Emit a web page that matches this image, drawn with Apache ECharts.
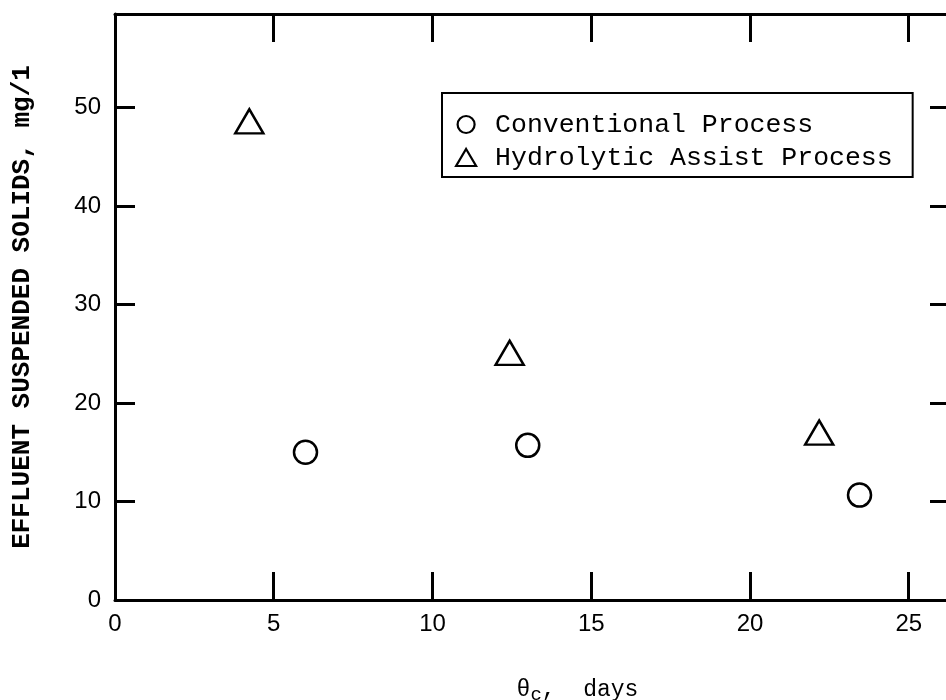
<!DOCTYPE html>
<html><head><meta charset="utf-8">
<script src="https://cdn.jsdelivr.net/npm/echarts@6/dist/echarts.min.js"></script>
<style>html,body{margin:0;padding:0;overflow:hidden;background:#fff}#c{width:952px;height:700px}</style>
</head><body><div id="c"></div>
<script>
const seriesNames = ['Conventional Process', 'Hydrolytic Assist Process'];
const conventionalX = [6.0, 13.0, 23.45];
const conventionalY = [15.0, 15.7, 10.65];
const hydrolyticX = [4.23, 12.43, 22.18];
const hydrolyticY = [48.6, 25.1, 17.0];
const xTicks = [0, 5, 10, 15, 20, 25];
const yTicks = [0, 10, 20, 30, 40, 50];
const xTitle = 'θ{s|c},  days';
const yTitle = 'EFFLUENT SUSPENDED SOLIDS, mg/1';

const zip = (xs, ys) => xs.map((x, i) => [x, ys[i]]);
const lineStyle = { color: '#000', width: 3 };
const axisLine = { show: true, onZero: false, lineStyle };
const labelFont = { color: '#000', fontFamily: 'Liberation Sans', fontSize: 24 };
const tickFormatter = (list) => (v) => (list.indexOf(Math.round(v * 1000) / 1000) >= 0 ? String(v) : '');

const chart = echarts.init(document.getElementById('c'), null, { renderer: 'canvas' });
chart.setOption({
  backgroundColor: '#fff',
  animation: false,
  grid: { left: 115, top: 14, right: 2, bottom: 100, containLabel: false, outerBoundsMode: 'none' },
  legend: {
    orient: 'vertical', left: 442, top: 93,
    padding: [18, 20, 6, 13],
    borderColor: '#000', borderWidth: 2,
    itemWidth: 20, itemHeight: 17, itemGap: 6,
    textStyle: { color: '#000', fontFamily: 'Liberation Mono', fontSize: 26.5, padding: [0, 0, 0, 14] },
    data: [
      { name: seriesNames[0], icon: 'circle', itemStyle: { color: '#fff', borderColor: '#000', borderWidth: 2.2 } },
      { name: seriesNames[1], icon: 'triangle', itemStyle: { color: '#fff', borderColor: '#000', borderWidth: 2.2 } }
    ]
  },
  xAxis: [
    {
      type: 'value', position: 'bottom', min: 0, max: 26.3, interval: 5,
      axisLine,
      axisTick: { show: true, inside: true, length: 28, lineStyle },
      axisLabel: { ...labelFont, margin: 12, showMaxLabel: false, formatter: tickFormatter(xTicks) },
      splitLine: { show: false },
      name: xTitle, nameLocation: 'middle', nameGap: 75,
      nameTextStyle: { color: '#000', fontFamily: 'Liberation Mono', fontSize: 23, padding: [0, 0, 0, 90],
        rich: { s: { fontFamily: 'Liberation Mono', fontSize: 19, padding: [10, 0, 0, 0] } } }
    },
    {
      type: 'value', position: 'top', min: 0, max: 26.3, interval: 5,
      axisLine,
      axisTick: { show: true, inside: true, length: 28, lineStyle },
      axisLabel: { show: false },
      splitLine: { show: false }
    }
  ],
  yAxis: [
    {
      type: 'value', position: 'left', min: 0, max: 59.5, interval: 10,
      axisLine,
      axisTick: { show: true, inside: true, length: 20, lineStyle },
      axisLabel: { ...labelFont, margin: 14, showMaxLabel: false, formatter: tickFormatter(yTicks) },
      splitLine: { show: false },
      name: yTitle, nameLocation: 'middle', nameRotate: 90, nameGap: 80,
      nameTextStyle: { color: '#000', fontFamily: 'Liberation Mono', fontWeight: 'bold', fontSize: 26 }
    },
    {
      type: 'value', position: 'right', min: 0, max: 59.5, interval: 10,
      axisLine,
      axisTick: { show: true, inside: true, length: 20, lineStyle },
      axisLabel: { show: false },
      splitLine: { show: false }
    }
  ],
  series: [
    {
      name: seriesNames[0], type: 'scatter', xAxisIndex: 0, yAxisIndex: 0,
      symbol: 'circle', symbolSize: 23,
      itemStyle: { color: '#fff', borderColor: '#000', borderWidth: 2.5, opacity: 1 },
      data: zip(conventionalX, conventionalY)
    },
    {
      name: seriesNames[1], type: 'scatter', xAxisIndex: 0, yAxisIndex: 0,
      symbol: 'triangle', symbolSize: [28, 24],
      itemStyle: { color: '#fff', borderColor: '#000', borderWidth: 2.5, opacity: 1 },
      data: zip(hydrolyticX, hydrolyticY)
    }
  ]
});
</script></body></html>
